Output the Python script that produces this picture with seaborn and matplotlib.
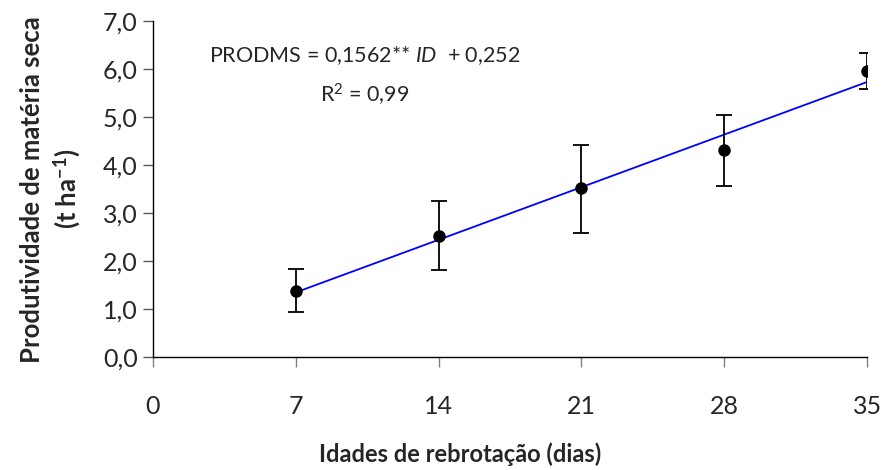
import matplotlib
matplotlib.use('Agg')
import matplotlib.pyplot as plt
import seaborn as sns
import pandas as pd
import numpy as np

# dados
idades = [7, 14, 21, 28, 35]
prodms = [1.38, 2.52, 3.53, 4.32, 5.96]
erro_inf = [0.94, 1.81, 2.58, 3.56, 5.59]
erro_sup = [1.83, 3.25, 4.42, 5.04, 6.33]
xticks = [0, 7, 14, 21, 28, 35]
yticks = [0, 1, 2, 3, 4, 5, 6, 7]

df = pd.DataFrame({'idade': idades, 'prodms': prodms})

sns.set_style('white')
plt.rcParams['font.family'] = ['Lato', 'DejaVu Sans']
plt.rcParams['mathtext.fontset'] = 'custom'
plt.rcParams['mathtext.rm'] = 'Lato'
plt.rcParams['mathtext.it'] = 'Lato:italic'
plt.rcParams['mathtext.bf'] = 'Lato:bold'

fig = plt.figure(figsize=(8.84, 4.70), dpi=100)
ax = fig.add_axes([0.173, 0.240, 0.808, 0.715])

# reta de regressão
sns.regplot(x='idade', y='prodms', data=df, scatter=False, ci=None, truncate=True,
            line_kws={'color': '#0000FF', 'lw': 1.3}, ax=ax)

# médias e barras de erro
yerr = [np.array(prodms) - np.array(erro_inf), np.array(erro_sup) - np.array(prodms)]
ax.errorbar(idades, prodms, yerr=yerr, fmt='o', color='black', ms=8,
            ecolor='black', elinewidth=1.3, capsize=6, capthick=1.3, zorder=3)

ax.set_xlim(0, 35)
ax.set_ylim(0, 7)
ax.set_xticks(xticks)
ax.set_xticklabels([str(t) for t in xticks])
ax.set_yticks(yticks)
ax.set_yticklabels([f'{t:.1f}'.replace('.', ',') for t in yticks])
ax.tick_params(axis='x', direction='out', length=7, width=1, color='#808080',
               pad=20, labelsize=18)
ax.tick_params(axis='y', direction='out', length=7, width=1, color='#595959',
               pad=4, labelsize=18)
ax.tick_params(bottom=True, left=True)
for s in ['top', 'right']:
    ax.spines[s].set_visible(False)
for s in ['left', 'bottom']:
    ax.spines[s].set_color('black')
    ax.spines[s].set_linewidth(1)

ax.set_xlabel('Idades de rebrotação (dias)', fontsize=17, fontweight='bold')
ax.xaxis.set_label_coords(0.43, -0.255)
ax.set_ylabel('Produtividade de matéria seca\n(t ha$^{\\mathbf{-1}}$)', fontsize=18.5,
              fontweight='bold', linespacing=1.3)
ax.yaxis.set_label_coords(-0.098, 0.5)

ax.text(10.4, 6.29, 'PRODMS = 0,1562** $\\mathit{ID}$  + 0,252', fontsize=15.5, ha='center', va='center')
ax.text(10.4, 5.46, 'R$^2$ = 0,99', fontsize=15.5, ha='center', va='center')

fig.savefig('out.png', dpi=100)
